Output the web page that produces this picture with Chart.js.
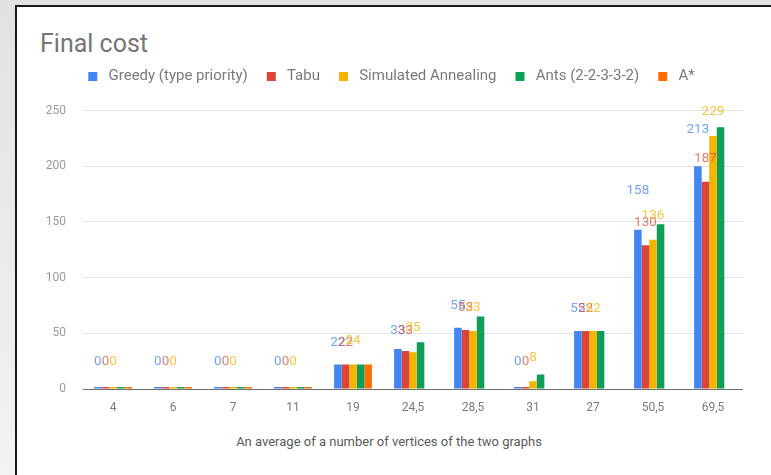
<!DOCTYPE html>
<html>
<head>
<meta charset="utf-8">
<script src="https://cdn.jsdelivr.net/npm/chart.js@4/dist/chart.umd.min.js"></script>
<style>
  html, body { margin: 0; padding: 0; }
  body { width: 771px; height: 475px; position: relative; overflow: hidden;
         background: linear-gradient(to bottom, #e2e2e2, #f3f3f3); font-family: Roboto, "Noto Sans", sans-serif; }
  .frame { position: absolute; left: 15px; top: 5px; width: 756px; height: 470px; background: #fff;
           border-top: 2px solid #1a1a1a; border-left: 2px solid #1a1a1a; }
  .chart-title { position: absolute; left: 40px; top: 29px; font-size: 25px; line-height: 30px; color: #757575; }
  .axis-title { position: absolute; left: 189px; width: 400px; top: 434px; text-align: center;
                font-size: 13px; line-height: 16px; color: #5a5a5a; }
  .wrap { position: absolute; left: 0; top: 0; width: 771px; height: 475px; }
</style>
</head>
<body>
<div class="frame"></div>
<div class="chart-title">Final cost</div>
<div class="axis-title">An average of a number of vertices of the two graphs</div>
<div class="wrap"><canvas id="chart"></canvas></div>
<script>
// categories and values
const categories = ['4', '6', '7', '11', '19', '24,5', '28,5', '31', '27', '50,5', '69,5'];
const seriesNames = ['Greedy (type priority)', 'Tabu', 'Simulated Annealing', 'Ants (2-2-3-3-2)', 'A*'];
const greedy = [0, 0, 0, 0, 22, 36, 55, 0, 52, 143, 200];
const tabu   = [0, 0, 0, 0, 22, 34, 53, 0, 52, 129, 186];
const sa     = [0, 0, 0, 0, 22, 33, 52, 7, 52, 134, 227];
const ants   = [0, 0, 0, 0, 22, 42, 65, 13, 52, 148, 235];
const aStar  = [0, 0, 0, 0, 22, null, null, null, null, null, null];

// data labels as printed (only first three series have them)
const greedyLabels = [0, 0, 0, 0, 22, 33, 55, 0, 52, 158, 213];
const tabuLabels   = [0, 0, 0, 0, 22, 33, 53, 0, 52, 130, 187];
const saLabels     = [0, 0, 0, 0, 24, 35, 53, 8, 52, 136, 229];

const yTicks = [0, 50, 100, 150, 200, 250];

const colors = ['#4285f4', '#db4437', '#f4b400', '#0f9d58', '#ff6d01'];
const labelColors = ['rgba(66,133,244,0.75)', 'rgba(219,68,55,0.7)', 'rgba(244,180,0,0.75)'];
const values = [greedy, tabu, sa, ants, aStar];
const labelSets = [greedyLabels, tabuLabels, saLabels];

// push the plot down below the legend
const legendSpace = {
  id: 'legendSpace',
  beforeInit(chart) {
    const fit = chart.legend.fit;
    chart.legend.fit = function () { fit.call(this); this.height = 62; };
  }
};

const barLabels = {
  id: 'barLabels',
  afterDatasetsDraw(chart) {
    const ctx = chart.ctx, y = chart.scales.y;
    ctx.save();
    ctx.font = '13.5px Roboto';
    ctx.textAlign = 'center';
    ctx.textBaseline = 'middle';
    labelSets.forEach((vals, i) => {
      const meta = chart.getDatasetMeta(i);
      ctx.fillStyle = labelColors[i];
      meta.data.forEach((bar, j) => {
        if (vals[j] == null) return;
        const off = vals[j] === 0 ? 27 : 22;
        ctx.fillText(String(vals[j]), bar.x, y.getPixelForValue(vals[j]) - off);
      });
    });
    ctx.restore();
  }
};

new Chart(document.getElementById('chart'), {
  type: 'bar',
  data: {
    labels: categories,
    datasets: seriesNames.map((name, i) => ({
      label: name,
      data: values[i],
      backgroundColor: colors[i],
      borderWidth: 0,
      minBarLength: 2,
      barPercentage: 1.0,
      categoryPercentage: 0.63
    }))
  },
  options: {
    responsive: true,
    maintainAspectRatio: false,
    animation: false,
    layout: { padding: { left: 40, right: 28, top: 50, bottom: 0 } },
    plugins: {
      legend: {
        position: 'top',
        align: 'center',
        labels: {
          boxWidth: 9, boxHeight: 9, padding: 19, color: '#7a7a7a',
          font: { size: 15, family: 'Roboto' },
          generateLabels(chart) {
            return Chart.defaults.plugins.legend.labels.generateLabels(chart)
              .map(item => Object.assign(item, { text: ' ' + item.text }));
          }
        }
      },
      tooltip: { enabled: false }
    },
    scales: {
      x: {
        grid: { display: false, drawTicks: false },
        border: { display: false },
        ticks: { color: '#7a7a7a', padding: 12, font: { size: 12, family: 'Roboto' } },
        afterFit: s => { s.height = 86; }
      },
      y: {
        min: yTicks[0],
        max: yTicks[yTicks.length - 1],
        afterBuildTicks: s => { s.ticks = yTicks.map(v => ({ value: v })); },
        grid: { color: c => (c.tick && c.tick.value === 0 ? '#6f6f6f' : '#e3e3e3'), drawTicks: false },
        border: { display: false },
        ticks: { color: '#9a9a9a', padding: 17, font: { size: 12, family: 'Roboto' } },
        afterFit: s => { s.width = 43; }
      }
    }
  },
  plugins: [
    {
      id: 'legendSpace',
      beforeInit(chart) {
        const fit = chart.legend.fit;
        chart.legend.fit = function () { fit.call(this); this.height = 60.5; };
      }
    },
    barLabels
  ]
});
</script>
</body>
</html>
